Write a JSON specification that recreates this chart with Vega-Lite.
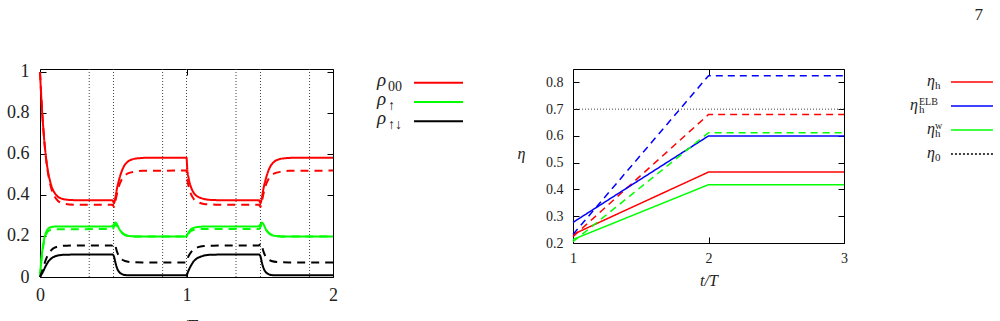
{
 "$schema": "https://vega.github.io/schema/vega-lite/v6.json",
 "padding": {"left": 6, "top": 6, "right": 0, "bottom": -13},
 "background": "white",
 "config": {
  "font": "Liberation Serif, DejaVu Serif, serif",
  "view": {"stroke": "black", "strokeWidth": 1},
  "axis": {"grid": false, "domain": false, "tickColor": "black", "tickSize": -6, "labelColor": "#222", "titleColor": "#222", "labelFont": "Liberation Serif, DejaVu Serif, serif", "titleFont": "Liberation Serif, DejaVu Serif, serif", "titleFontWeight": "normal", "labelFlush": false, "labelOverlap": false}
 },
 "resolve": {"scale": {"color": "independent", "strokeDash": "independent"}},
 "datasets": {
  "rho": [
   {"c":"r","d":"s","t":0,"v":1.0},{"c":"r","d":"s","t":0.01,"v":0.86},{"c":"r","d":"s","t":0.02,"v":0.75},{"c":"r","d":"s","t":0.03,"v":0.66},{"c":"r","d":"s","t":0.04,"v":0.59},{"c":"r","d":"s","t":0.05,"v":0.535},{"c":"r","d":"s","t":0.06,"v":0.495},{"c":"r","d":"s","t":0.07,"v":0.465},{"c":"r","d":"s","t":0.08,"v":0.44},{"c":"r","d":"s","t":0.1,"v":0.41},{"c":"r","d":"s","t":0.12,"v":0.393},{"c":"r","d":"s","t":0.15,"v":0.382},{"c":"r","d":"s","t":0.2,"v":0.376},{"c":"r","d":"s","t":0.3,"v":0.374},{"c":"r","d":"s","t":0.495,"v":0.374},{"c":"r","d":"s","t":0.505,"v":0.36},{"c":"r","d":"s","t":0.515,"v":0.39},{"c":"r","d":"s","t":0.525,"v":0.43},{"c":"r","d":"s","t":0.54,"v":0.475},{"c":"r","d":"s","t":0.56,"v":0.52},{"c":"r","d":"s","t":0.58,"v":0.548},{"c":"r","d":"s","t":0.6,"v":0.563},{"c":"r","d":"s","t":0.63,"v":0.574},{"c":"r","d":"s","t":0.67,"v":0.579},{"c":"r","d":"s","t":0.75,"v":0.582},{"c":"r","d":"s","t":1.0,"v":0.582},{"c":"r","d":"s","t":1.005,"v":0.53},{"c":"r","d":"s","t":1.015,"v":0.48},{"c":"r","d":"s","t":1.03,"v":0.44},{"c":"r","d":"s","t":1.05,"v":0.41},{"c":"r","d":"s","t":1.07,"v":0.395},{"c":"r","d":"s","t":1.1,"v":0.385},{"c":"r","d":"s","t":1.15,"v":0.377},{"c":"r","d":"s","t":1.2,"v":0.375},{"c":"r","d":"s","t":1.495,"v":0.374},{"c":"r","d":"s","t":1.505,"v":0.36},{"c":"r","d":"s","t":1.515,"v":0.39},{"c":"r","d":"s","t":1.525,"v":0.43},{"c":"r","d":"s","t":1.54,"v":0.475},{"c":"r","d":"s","t":1.56,"v":0.52},{"c":"r","d":"s","t":1.58,"v":0.548},{"c":"r","d":"s","t":1.6,"v":0.563},{"c":"r","d":"s","t":1.63,"v":0.574},{"c":"r","d":"s","t":1.67,"v":0.579},{"c":"r","d":"s","t":1.75,"v":0.582},{"c":"r","d":"s","t":2.0,"v":0.582},
   {"c":"r","d":"d","t":0,"v":1.0},{"c":"r","d":"d","t":0.02,"v":0.75},{"c":"r","d":"d","t":0.04,"v":0.585},{"c":"r","d":"d","t":0.06,"v":0.485},{"c":"r","d":"d","t":0.08,"v":0.425},{"c":"r","d":"d","t":0.1,"v":0.392},{"c":"r","d":"d","t":0.12,"v":0.373},{"c":"r","d":"d","t":0.15,"v":0.36},{"c":"r","d":"d","t":0.2,"v":0.354},{"c":"r","d":"d","t":0.3,"v":0.352},{"c":"r","d":"d","t":0.495,"v":0.352},{"c":"r","d":"d","t":0.505,"v":0.342},{"c":"r","d":"d","t":0.515,"v":0.37},{"c":"r","d":"d","t":0.525,"v":0.405},{"c":"r","d":"d","t":0.54,"v":0.445},{"c":"r","d":"d","t":0.56,"v":0.478},{"c":"r","d":"d","t":0.58,"v":0.495},{"c":"r","d":"d","t":0.6,"v":0.505},{"c":"r","d":"d","t":0.65,"v":0.514},{"c":"r","d":"d","t":0.7,"v":0.518},{"c":"r","d":"d","t":1.0,"v":0.519},{"c":"r","d":"d","t":1.005,"v":0.48},{"c":"r","d":"d","t":1.015,"v":0.44},{"c":"r","d":"d","t":1.03,"v":0.405},{"c":"r","d":"d","t":1.05,"v":0.38},{"c":"r","d":"d","t":1.08,"v":0.365},{"c":"r","d":"d","t":1.12,"v":0.356},{"c":"r","d":"d","t":1.2,"v":0.353},{"c":"r","d":"d","t":1.495,"v":0.352},{"c":"r","d":"d","t":1.505,"v":0.342},{"c":"r","d":"d","t":1.515,"v":0.37},{"c":"r","d":"d","t":1.525,"v":0.405},{"c":"r","d":"d","t":1.54,"v":0.445},{"c":"r","d":"d","t":1.56,"v":0.478},{"c":"r","d":"d","t":1.58,"v":0.495},{"c":"r","d":"d","t":1.6,"v":0.505},{"c":"r","d":"d","t":1.65,"v":0.514},{"c":"r","d":"d","t":1.7,"v":0.518},{"c":"r","d":"d","t":2.0,"v":0.519},
   {"c":"g","d":"s","t":0,"v":0},{"c":"g","d":"s","t":0.01,"v":0.09},{"c":"g","d":"s","t":0.02,"v":0.15},{"c":"g","d":"s","t":0.03,"v":0.19},{"c":"g","d":"s","t":0.04,"v":0.215},{"c":"g","d":"s","t":0.05,"v":0.23},{"c":"g","d":"s","t":0.06,"v":0.238},{"c":"g","d":"s","t":0.08,"v":0.244},{"c":"g","d":"s","t":0.1,"v":0.246},{"c":"g","d":"s","t":0.495,"v":0.247},{"c":"g","d":"s","t":0.505,"v":0.258},{"c":"g","d":"s","t":0.515,"v":0.266},{"c":"g","d":"s","t":0.525,"v":0.258},{"c":"g","d":"s","t":0.54,"v":0.235},{"c":"g","d":"s","t":0.56,"v":0.217},{"c":"g","d":"s","t":0.58,"v":0.206},{"c":"g","d":"s","t":0.6,"v":0.201},{"c":"g","d":"s","t":0.65,"v":0.198},{"c":"g","d":"s","t":1.0,"v":0.197},{"c":"g","d":"s","t":1.005,"v":0.205},{"c":"g","d":"s","t":1.015,"v":0.218},{"c":"g","d":"s","t":1.03,"v":0.232},{"c":"g","d":"s","t":1.05,"v":0.24},{"c":"g","d":"s","t":1.08,"v":0.244},{"c":"g","d":"s","t":1.12,"v":0.246},{"c":"g","d":"s","t":1.495,"v":0.247},{"c":"g","d":"s","t":1.505,"v":0.258},{"c":"g","d":"s","t":1.515,"v":0.266},{"c":"g","d":"s","t":1.525,"v":0.258},{"c":"g","d":"s","t":1.54,"v":0.235},{"c":"g","d":"s","t":1.56,"v":0.217},{"c":"g","d":"s","t":1.58,"v":0.206},{"c":"g","d":"s","t":1.6,"v":0.201},{"c":"g","d":"s","t":1.65,"v":0.198},{"c":"g","d":"s","t":2.0,"v":0.197},
   {"c":"g","d":"d","t":0,"v":0},{"c":"g","d":"d","t":0.01,"v":0.085},{"c":"g","d":"d","t":0.02,"v":0.14},{"c":"g","d":"d","t":0.03,"v":0.18},{"c":"g","d":"d","t":0.04,"v":0.205},{"c":"g","d":"d","t":0.05,"v":0.218},{"c":"g","d":"d","t":0.06,"v":0.226},{"c":"g","d":"d","t":0.08,"v":0.231},{"c":"g","d":"d","t":0.1,"v":0.233},{"c":"g","d":"d","t":0.495,"v":0.234},{"c":"g","d":"d","t":0.505,"v":0.245},{"c":"g","d":"d","t":0.515,"v":0.255},{"c":"g","d":"d","t":0.525,"v":0.25},{"c":"g","d":"d","t":0.54,"v":0.232},{"c":"g","d":"d","t":0.56,"v":0.215},{"c":"g","d":"d","t":0.58,"v":0.205},{"c":"g","d":"d","t":0.6,"v":0.2},{"c":"g","d":"d","t":0.65,"v":0.198},{"c":"g","d":"d","t":1.0,"v":0.197},{"c":"g","d":"d","t":1.005,"v":0.203},{"c":"g","d":"d","t":1.015,"v":0.213},{"c":"g","d":"d","t":1.03,"v":0.224},{"c":"g","d":"d","t":1.05,"v":0.23},{"c":"g","d":"d","t":1.08,"v":0.233},{"c":"g","d":"d","t":1.12,"v":0.234},{"c":"g","d":"d","t":1.495,"v":0.234},{"c":"g","d":"d","t":1.505,"v":0.245},{"c":"g","d":"d","t":1.515,"v":0.255},{"c":"g","d":"d","t":1.525,"v":0.25},{"c":"g","d":"d","t":1.54,"v":0.232},{"c":"g","d":"d","t":1.56,"v":0.215},{"c":"g","d":"d","t":1.58,"v":0.205},{"c":"g","d":"d","t":1.6,"v":0.2},{"c":"g","d":"d","t":1.65,"v":0.198},{"c":"g","d":"d","t":2.0,"v":0.197},
   {"c":"k","d":"s","t":0,"v":0},{"c":"k","d":"s","t":0.02,"v":0.025},{"c":"k","d":"s","t":0.04,"v":0.055},{"c":"k","d":"s","t":0.06,"v":0.078},{"c":"k","d":"s","t":0.08,"v":0.092},{"c":"k","d":"s","t":0.1,"v":0.1},{"c":"k","d":"s","t":0.13,"v":0.106},{"c":"k","d":"s","t":0.18,"v":0.109},{"c":"k","d":"s","t":0.495,"v":0.11},{"c":"k","d":"s","t":0.505,"v":0.1},{"c":"k","d":"s","t":0.515,"v":0.07},{"c":"k","d":"s","t":0.525,"v":0.045},{"c":"k","d":"s","t":0.54,"v":0.025},{"c":"k","d":"s","t":0.56,"v":0.014},{"c":"k","d":"s","t":0.59,"v":0.009},{"c":"k","d":"s","t":0.65,"v":0.008},{"c":"k","d":"s","t":1.0,"v":0.008},{"c":"k","d":"s","t":1.01,"v":0.025},{"c":"k","d":"s","t":1.03,"v":0.055},{"c":"k","d":"s","t":1.05,"v":0.077},{"c":"k","d":"s","t":1.07,"v":0.09},{"c":"k","d":"s","t":1.1,"v":0.1},{"c":"k","d":"s","t":1.13,"v":0.106},{"c":"k","d":"s","t":1.18,"v":0.109},{"c":"k","d":"s","t":1.495,"v":0.11},{"c":"k","d":"s","t":1.505,"v":0.1},{"c":"k","d":"s","t":1.515,"v":0.07},{"c":"k","d":"s","t":1.525,"v":0.045},{"c":"k","d":"s","t":1.54,"v":0.025},{"c":"k","d":"s","t":1.56,"v":0.014},{"c":"k","d":"s","t":1.59,"v":0.009},{"c":"k","d":"s","t":1.65,"v":0.008},{"c":"k","d":"s","t":2.0,"v":0.008},
   {"c":"k","d":"d","t":0,"v":0},{"c":"k","d":"d","t":0.02,"v":0.04},{"c":"k","d":"d","t":0.04,"v":0.085},{"c":"k","d":"d","t":0.06,"v":0.115},{"c":"k","d":"d","t":0.08,"v":0.133},{"c":"k","d":"d","t":0.1,"v":0.143},{"c":"k","d":"d","t":0.13,"v":0.15},{"c":"k","d":"d","t":0.18,"v":0.153},{"c":"k","d":"d","t":0.495,"v":0.154},{"c":"k","d":"d","t":0.505,"v":0.163},{"c":"k","d":"d","t":0.515,"v":0.15},{"c":"k","d":"d","t":0.525,"v":0.125},{"c":"k","d":"d","t":0.54,"v":0.1},{"c":"k","d":"d","t":0.56,"v":0.085},{"c":"k","d":"d","t":0.58,"v":0.078},{"c":"k","d":"d","t":0.62,"v":0.073},{"c":"k","d":"d","t":0.7,"v":0.071},{"c":"k","d":"d","t":1.0,"v":0.071},{"c":"k","d":"d","t":1.01,"v":0.095},{"c":"k","d":"d","t":1.03,"v":0.12},{"c":"k","d":"d","t":1.05,"v":0.135},{"c":"k","d":"d","t":1.08,"v":0.146},{"c":"k","d":"d","t":1.12,"v":0.151},{"c":"k","d":"d","t":1.18,"v":0.153},{"c":"k","d":"d","t":1.495,"v":0.154},{"c":"k","d":"d","t":1.505,"v":0.163},{"c":"k","d":"d","t":1.515,"v":0.15},{"c":"k","d":"d","t":1.525,"v":0.125},{"c":"k","d":"d","t":1.54,"v":0.1},{"c":"k","d":"d","t":1.56,"v":0.085},{"c":"k","d":"d","t":1.58,"v":0.078},{"c":"k","d":"d","t":1.62,"v":0.073},{"c":"k","d":"d","t":1.7,"v":0.071},{"c":"k","d":"d","t":2.0,"v":0.071}
  ],
  "eta": [
   {"c":"h","d":"s","t":1,"v":0.232},{"c":"h","d":"s","t":2,"v":0.465},{"c":"h","d":"s","t":3,"v":0.465},
   {"c":"h","d":"d","t":1,"v":0.224},{"c":"h","d":"d","t":2,"v":0.68},{"c":"h","d":"d","t":3,"v":0.68},
   {"c":"elb","d":"s","t":1,"v":0.277},{"c":"elb","d":"s","t":2,"v":0.6},{"c":"elb","d":"s","t":3,"v":0.6},
   {"c":"elb","d":"d","t":1,"v":0.232},{"c":"elb","d":"d","t":2,"v":0.825},{"c":"elb","d":"d","t":3,"v":0.825},
   {"c":"w","d":"s","t":1,"v":0.213},{"c":"w","d":"s","t":2,"v":0.418},{"c":"w","d":"s","t":3,"v":0.418},
   {"c":"w","d":"d","t":1,"v":0.205},{"c":"w","d":"d","t":2,"v":0.612},{"c":"w","d":"d","t":3,"v":0.612}
  ]
 },
 "hconcat": [
  {
   "width": 293, "height": 208,
   "layer": [
    {"data": {"values": [{"t":0.336},{"t":0.502},{"t":0.837},{"t":1.0},{"t":1.338},{"t":1.505},{"t":1.84}]},
     "mark": {"type": "rule", "strokeDash": [1, 2], "color": "#444", "strokeWidth": 1},
     "encoding": {"x": {"field": "t", "type": "quantitative", "scale": {"domain": [0, 2]}, "axis": null}}},
    {"data": {"name": "rho"},
     "mark": {"type": "line", "interpolate": "monotone", "strokeWidth": 2},
     "encoding": {
      "x": {"field": "t", "type": "quantitative", "scale": {"domain": [0, 2]}, "axis": {"values": [0, 1, 2], "format": "~g", "labelFontSize": 18, "labelPadding": 15, "title": "t/T", "titleFontSize": 18, "titleFontStyle": "italic", "titleY": 41, "titleBaseline": "top"}},
      "y": {"field": "v", "type": "quantitative", "scale": {"domain": [0, 1.0146], "nice": false}, "axis": {"values": [0, 0.2, 0.4, 0.6, 0.8, 1], "format": "~g", "labelFontSize": 18, "labelPadding": 17, "title": null}},
      "color": {"field": "c", "type": "nominal", "scale": {"domain": ["r", "g", "k"], "range": ["#ff0000", "#00ff00", "#000000"]}, "legend": null},
      "strokeDash": {"field": "d", "type": "nominal", "scale": {"domain": ["s", "d"], "range": [[1, 0], [8, 6]]}, "legend": null}
     }},
    {"data": {"values": [{"t": 0, "v": 0}]},
     "mark": {"type": "point", "opacity": 0},
     "encoding": {
      "x": {"field": "t", "type": "quantitative", "scale": {"domain": [0, 2]}, "axis": {"orient": "top", "values": [0, 1, 2], "labels": false, "title": null}},
      "y": {"field": "v", "type": "quantitative", "scale": {"domain": [0, 1.0146], "nice": false}, "axis": {"orient": "right", "values": [0, 0.2, 0.4, 0.6, 0.8, 1], "labels": false, "title": null}}
     }}
   ],
   "resolve": {"axis": {"x": "independent", "y": "independent"}}
  },
  {
   "width": 240, "height": 66, "view": {"stroke": null},
   "data": {"values": [{"k": "r", "b": "ρ", "s": "00"}, {"k": "g", "b": "ρ", "s": "↑"}, {"k": "k", "b": "ρ", "s": "↑↓"}]},
   "encoding": {"y": {"field": "k", "type": "nominal", "sort": ["r", "g", "k"], "scale": {"type": "point", "padding": 0.714}, "axis": null}},
   "layer": [
    {"mark": {"type": "rule", "strokeWidth": 2},
     "encoding": {"x": {"datum": 0.3375, "type": "quantitative", "scale": {"domain": [0, 1]}, "axis": null}, "x2": {"datum": 0.5417},
      "color": {"field": "k", "type": "nominal", "scale": {"domain": ["r", "g", "k"], "range": ["#ff0000", "#00ff00", "#000000"]}, "legend": null}}},
    {"mark": {"type": "text", "align": "left", "baseline": "alphabetic", "fontSize": 19, "fontStyle": "italic", "dy": 3, "color": "#222"},
     "encoding": {"x": {"datum": 0.183, "type": "quantitative"}, "text": {"field": "b"}}},
    {"mark": {"type": "text", "align": "left", "baseline": "alphabetic", "fontSize": 14, "dy": 8, "color": "#222"},
     "encoding": {"x": {"datum": 0.229, "type": "quantitative"}, "text": {"field": "s"}}}
   ]
  },
  {
   "width": 271, "height": 174,
   "layer": [
    {"data": {"values": [{"v": 0.7}]},
     "mark": {"type": "rule", "strokeDash": [1, 2], "color": "#444", "strokeWidth": 1},
     "encoding": {"y": {"field": "v", "type": "quantitative", "scale": {"domain": [0.2, 0.85], "nice": false}, "axis": null}}},
    {"data": {"name": "eta"},
     "mark": {"type": "line", "strokeWidth": 1.5},
     "encoding": {
      "x": {"field": "t", "type": "quantitative", "scale": {"domain": [1, 3]}, "axis": {"values": [1, 2, 3], "format": "~g", "labelFontSize": 14, "labelPadding": 14, "title": "t/T", "titleFontSize": 16, "titleFontStyle": "italic", "titleY": 29, "titleBaseline": "top"}},
      "y": {"field": "v", "type": "quantitative", "scale": {"domain": [0.2, 0.85], "nice": false}, "axis": {"values": [0.2, 0.3, 0.4, 0.5, 0.6, 0.7, 0.8], "format": "~g", "labelFontSize": 14, "labelPadding": 16, "title": "η", "titleFontSize": 16, "titleFontStyle": "italic", "titleAngle": 0, "titleX": -52, "titleY": 84, "titleAlign": "center", "titleBaseline": "middle"}},
      "color": {"field": "c", "type": "nominal", "scale": {"domain": ["h", "elb", "w"], "range": ["#ff0000", "#0000ff", "#00ff00"]}, "legend": null},
      "strokeDash": {"field": "d", "type": "nominal", "scale": {"domain": ["s", "d"], "range": [[1, 0], [7, 5]]}, "legend": null}
     }},
    {"data": {"values": [{"t": 1, "v": 0.2}]},
     "mark": {"type": "point", "opacity": 0},
     "encoding": {
      "x": {"field": "t", "type": "quantitative", "scale": {"domain": [1, 3]}, "axis": {"orient": "top", "values": [1, 2, 3], "labels": false, "title": null}},
      "y": {"field": "v", "type": "quantitative", "scale": {"domain": [0.2, 0.85], "nice": false}, "axis": {"orient": "right", "values": [0.2, 0.3, 0.4, 0.5, 0.6, 0.7, 0.8], "labels": false, "title": null}}
     }}
   ],
   "resolve": {"axis": {"x": "independent", "y": "independent"}}
  },
  {
   "width": 150, "height": 98, "view": {"stroke": null},
   "title": {"text": "7", "anchor": "end", "frame": "group", "orient": "top", "offset": 32, "fontSize": 17, "fontWeight": "normal", "font": "Liberation Serif, DejaVu Serif, serif", "color": "#222", "dx": -11, "baseline": "alphabetic"},
   "data": {"values": [{"k": "h", "b": "η", "s": "h", "p": ""}, {"k": "elb", "b": "η", "s": "h", "p": "ELB"}, {"k": "w", "b": "η", "s": "h", "p": "w"}, {"k": "z", "b": "η", "s": "0", "p": ""}]},
   "encoding": {"y": {"field": "k", "type": "nominal", "sort": ["h", "elb", "w", "z"], "scale": {"type": "point", "padding": 0.544}, "axis": null}},
   "layer": [
    {"mark": {"type": "rule", "strokeWidth": 1.5},
     "encoding": {"x": {"datum": 0.713, "type": "quantitative", "scale": {"domain": [0, 1]}, "axis": null}, "x2": {"datum": 0.993},
      "color": {"field": "k", "type": "nominal", "scale": {"domain": ["h", "elb", "w", "z"], "range": ["#ff0000", "#0000ff", "#00ff00", "#000000"]}, "legend": null},
      "strokeDash": {"field": "k", "type": "nominal", "scale": {"domain": ["h", "elb", "w", "z"], "range": [[1, 0], [1, 0], [1, 0], [2, 2]]}, "legend": null}}},
    {"transform": [{"filter": "datum.k != 'elb'"}],
     "mark": {"type": "text", "align": "left", "baseline": "alphabetic", "fontSize": 16, "fontStyle": "italic", "dy": 4, "color": "#222"},
     "encoding": {"x": {"datum": 0.553, "type": "quantitative"}, "text": {"field": "b"}}},
    {"transform": [{"filter": "datum.k == 'elb'"}],
     "mark": {"type": "text", "align": "left", "baseline": "alphabetic", "fontSize": 16, "fontStyle": "italic", "dy": 4, "color": "#222"},
     "encoding": {"x": {"datum": 0.44, "type": "quantitative"}, "text": {"field": "b"}}},
    {"transform": [{"filter": "datum.k != 'elb'"}],
     "mark": {"type": "text", "align": "left", "baseline": "alphabetic", "fontSize": 11, "dy": 7, "color": "#222"},
     "encoding": {"x": {"datum": 0.607, "type": "quantitative"}, "text": {"field": "s"}}},
    {"transform": [{"filter": "datum.k == 'elb'"}],
     "mark": {"type": "text", "align": "left", "baseline": "alphabetic", "fontSize": 11, "dy": 7, "color": "#222"},
     "encoding": {"x": {"datum": 0.5, "type": "quantitative"}, "text": {"field": "s"}}},
    {"transform": [{"filter": "datum.k != 'elb'"}],
     "mark": {"type": "text", "align": "left", "baseline": "alphabetic", "fontSize": 10, "dy": -1, "color": "#222"},
     "encoding": {"x": {"datum": 0.607, "type": "quantitative"}, "text": {"field": "p"}}},
    {"transform": [{"filter": "datum.k == 'elb'"}],
     "mark": {"type": "text", "align": "left", "baseline": "alphabetic", "fontSize": 10, "dy": -1, "color": "#222"},
     "encoding": {"x": {"datum": 0.5, "type": "quantitative"}, "text": {"field": "p"}}}
   ]
  }
 ],
 "spacing": 0,
 "bounds": "flush"
}
